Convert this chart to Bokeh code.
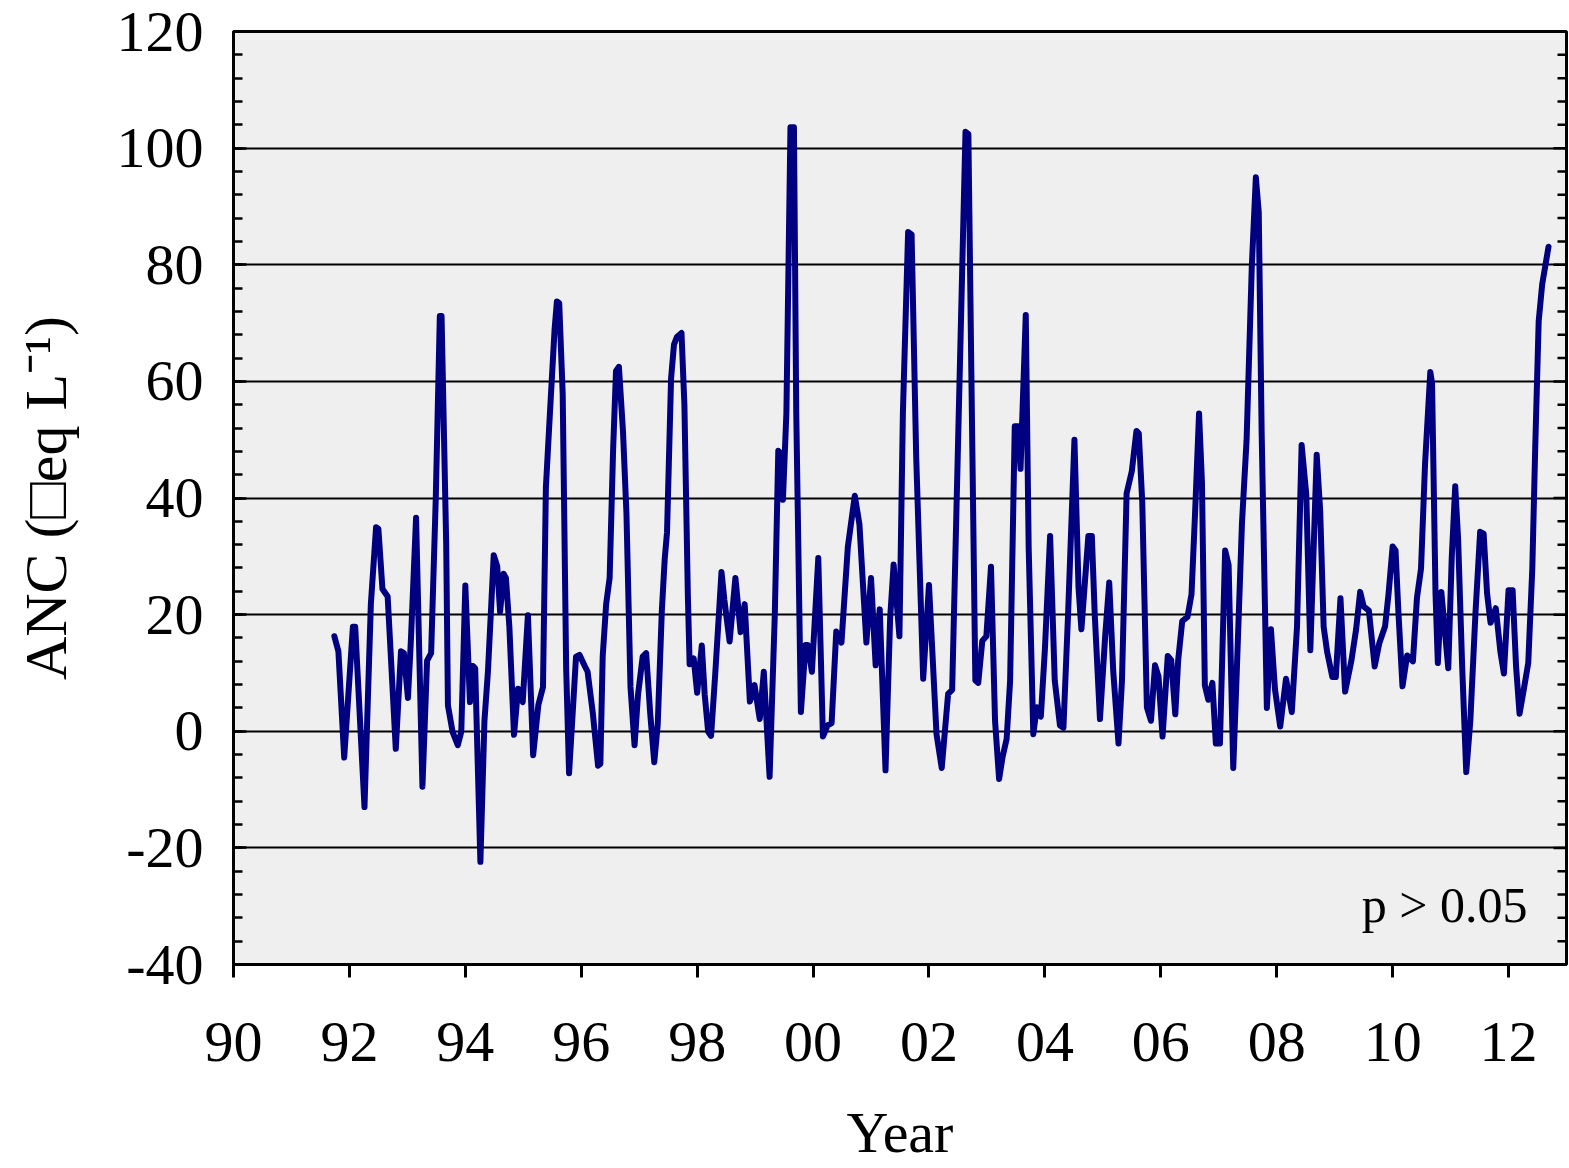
from bokeh.embed import file_html
from bokeh.models import FixedTicker, Label, Range1d, SingleIntervalTicker
from bokeh.plotting import figure
from bokeh.resources import INLINE

# ANC time series (decimal year, ueq/L)
year = [
    1991.74, 1991.81, 1991.91, 1992.06, 1992.10, 1992.26, 1992.37, 1992.46, 1992.50, 1992.57,
    1992.66, 1992.80, 1992.89, 1992.94, 1993.01, 1993.06, 1993.15, 1993.26, 1993.34, 1993.41,
    1993.49, 1993.56, 1993.59, 1993.67, 1993.70, 1993.78, 1993.87, 1993.93, 1994.00, 1994.08,
    1994.13, 1994.17, 1994.26, 1994.33, 1994.39, 1994.49, 1994.55, 1994.60, 1994.66, 1994.70,
    1994.76, 1994.84, 1994.91, 1994.99, 1995.08, 1995.17, 1995.26, 1995.34, 1995.39, 1995.45,
    1995.54, 1995.58, 1995.62, 1995.68, 1995.74, 1995.79, 1995.86, 1995.91, 1995.97, 1996.06,
    1996.11, 1996.20, 1996.29, 1996.33, 1996.37, 1996.43, 1996.49, 1996.55, 1996.60, 1996.65,
    1996.72, 1996.78, 1996.85, 1996.92, 1996.98, 1997.06, 1997.12, 1997.19, 1997.26, 1997.32,
    1997.39, 1997.44, 1997.48, 1997.55, 1997.60, 1997.65, 1997.73, 1997.78, 1997.84, 1997.87,
    1997.94, 1998.00, 1998.08, 1998.13, 1998.19, 1998.24, 1998.31, 1998.42, 1998.47, 1998.56,
    1998.66, 1998.75, 1998.82, 1998.91, 1998.99, 1999.08, 1999.15, 1999.25, 1999.34, 1999.40,
    1999.44, 1999.48, 1999.54, 1999.61, 1999.67, 1999.71, 1999.79, 1999.87, 1999.91, 1999.98,
    2000.09, 2000.17, 2000.25, 2000.32, 2000.40, 2000.49, 2000.60, 2000.72, 2000.80, 2000.92,
    2001.00, 2001.08, 2001.15, 2001.25, 2001.33, 2001.39, 2001.49, 2001.55, 2001.64, 2001.70,
    2001.78, 2001.90, 2002.00, 2002.13, 2002.22, 2002.33, 2002.40, 2002.63, 2002.68, 2002.73,
    2002.80, 2002.85, 2002.92, 2002.99, 2003.07, 2003.14, 2003.21, 2003.27, 2003.34, 2003.40,
    2003.48, 2003.54, 2003.58, 2003.67, 2003.72, 2003.80, 2003.86, 2003.93, 2004.00, 2004.09,
    2004.17, 2004.26, 2004.32, 2004.40, 2004.51, 2004.58, 2004.63, 2004.69, 2004.75, 2004.81,
    2004.86, 2004.95, 2005.04, 2005.11, 2005.18, 2005.27, 2005.33, 2005.41, 2005.50, 2005.58,
    2005.62, 2005.68, 2005.76, 2005.83, 2005.90, 2005.96, 2006.03, 2006.12, 2006.18, 2006.25,
    2006.30, 2006.37, 2006.46, 2006.53, 2006.59, 2006.66, 2006.71, 2006.76, 2006.82, 2006.89,
    2006.95, 2007.02, 2007.11, 2007.17, 2007.25, 2007.31, 2007.40, 2007.48, 2007.57, 2007.64,
    2007.69, 2007.74, 2007.83, 2007.90, 2007.97, 2008.06, 2008.16, 2008.26, 2008.35, 2008.43,
    2008.51, 2008.58, 2008.69, 2008.75, 2008.81, 2008.87, 2008.96, 2009.02, 2009.10, 2009.18,
    2009.29, 2009.37, 2009.44, 2009.50, 2009.59, 2009.69, 2009.77, 2009.87, 2009.93, 2010.00,
    2010.05, 2010.10, 2010.17, 2010.25, 2010.35, 2010.42, 2010.49, 2010.56, 2010.65, 2010.68,
    2010.74, 2010.78, 2010.84, 2010.96, 2011.02, 2011.08, 2011.13, 2011.20, 2011.27, 2011.34,
    2011.43, 2011.51, 2011.57, 2011.63, 2011.69, 2011.78, 2011.86, 2011.92, 2012.00, 2012.07,
    2012.13, 2012.19, 2012.26, 2012.34, 2012.41, 2012.46, 2012.52, 2012.58, 2012.69,
]
anc = [
    16.3, 13.7, -4.5, 17.9, 17.9, -13.0, 21.8, 35.0, 34.7, 24.4,
    23.1, -3.0, 13.7, 13.4, 5.7, 15.4, 36.6, -9.5, 12.1, 13.4,
    39.9, 71.2, 71.2, 32.1, 4.4, -0.1, -2.4, -0.1, 25.0, 5.0,
    11.2, 10.8, -22.4, 1.8, 10.2, 30.2, 28.3, 20.5, 27.0, 26.3,
    17.9, -0.6, 7.3, 5.0, 19.9, -4.1, 4.5, 7.6, 41.8, 52.8,
    68.9, 73.7, 73.4, 57.9, 10.8, -7.2, 4.4, 12.8, 13.1, 11.2,
    10.2, 3.1, -5.9, -5.6, 12.8, 21.8, 26.3, 48.3, 61.8, 62.5,
    51.5, 37.4, 7.6, -2.4, 6.3, 12.8, 13.4, 3.1, -5.3, 1.2,
    20.5, 29.5, 34.1, 60.5, 66.3, 67.6, 68.3, 56.0, 23.1, 11.5,
    12.5, 6.6, 14.7, 6.3, -0.1, -0.8, 9.5, 27.3, 22.5, 15.4,
    26.3, 17.0, 21.8, 5.1, 7.9, 2.1, 10.2, -7.8, 20.1, 48.1,
    47.7, 39.7, 54.6, 103.6, 103.6, 54.6, 3.3, 14.8, 14.8, 10.2,
    29.7, -0.9, 1.0, 1.4, 17.1, 15.2, 31.6, 40.4, 35.5, 15.2,
    26.3, 11.3, 20.9, -6.7, 19.4, 28.6, 16.3, 54.6, 85.6, 85.2,
    46.9, 9.0, 25.1, -0.5, -6.3, 6.4, 7.1, 102.8, 102.4, 62.3,
    8.7, 8.3, 15.5, 16.3, 28.2, 1.8, -8.2, -4.4, -1.3, 8.7,
    52.3, 52.3, 45.0, 71.4, 31.6, -0.5, 4.1, 2.5, 14.0, 33.5,
    8.7, 1.0, 0.6, 20.1, 50.0, 24.7, 17.5, 25.5, 33.5, 33.5,
    20.1, 2.1, 16.3, 25.5, 10.2, -2.1, 8.7, 40.8, 44.6, 51.5,
    51.1, 39.3, 4.1, 1.8, 11.3, 9.4, -0.9, 12.9, 12.2, 2.9,
    12.2, 18.9, 19.6, 23.5, 37.1, 54.5, 42.7, 7.9, 5.4, 8.3,
    -2.1, -2.1, 31.0, 28.5, -6.3, 10.0, 35.6, 49.9, 79.7, 95.0,
    89.0, 51.3, 4.0, 17.5, 7.2, 0.8, 9.0, 3.3, 17.9, 49.1,
    40.6, 13.9, 47.4, 37.8, 17.9, 13.6, 9.3, 9.3, 22.8, 6.8,
    12.2, 17.5, 23.9, 21.4, 20.7, 11.1, 15.1, 18.0, 23.6, 31.7,
    31.0, 20.4, 7.7, 13.0, 12.0, 22.9, 27.9, 46.0, 61.6, 59.7,
    23.6, 11.7, 23.9, 10.8, 29.8, 42.0, 32.9, 11.1, -7.0, 1.7,
    20.4, 34.2, 33.9, 23.6, 18.6, 21.1, 13.6, 9.9, 24.2, 24.2,
    11.1, 3.0, 7.0, 11.7, 27.9, 48.5, 70.3, 76.6, 83.1,
]

x_tick_years = [1990, 1992, 1994, 1996, 1998, 2000, 2002, 2004, 2006, 2008, 2010, 2012]
x_tick_labels = ["90", "92", "94", "96", "98", "00", "02", "04", "06", "08", "10", "12"]
y_tick_values = [-40, -20, 0, 20, 40, 60, 80, 100, 120]
y_tick_labels = ["-40", "-20", "0", "20", "40", "60", "80", "100", "120"]

X_MIN, X_MAX = 1990, 2013
Y_MIN, Y_MAX = -40, 120
Y_MAJOR, Y_MINOR = 20, 4

FONT = "Liberation Serif"
TICK_SIZE = "58px"

p = figure(
    frame_width=1333, frame_height=933,
    output_backend="svg", toolbar_location=None,
    x_range=Range1d(X_MIN, X_MAX), y_range=Range1d(Y_MIN, Y_MAX),
    min_border_left=233, min_border_right=3, min_border_top=31, min_border_bottom=150,
    background_fill_color="#efefef", border_fill_color="white",
    outline_line_color="black", outline_line_width=3,
)

# horizontal grid only
p.xgrid.visible = False
p.ygrid.grid_line_color = "black"
p.ygrid.grid_line_width = 2

# bottom axis: two-digit years, outward ticks
xa = p.xaxis[0]
xa.ticker = FixedTicker(ticks=x_tick_years)
xa.major_label_overrides = {t: s for t, s in zip(x_tick_years, x_tick_labels)}
xa.major_tick_in = 0
xa.major_tick_out = 13
xa.major_tick_line_width = 3
xa.axis_line_width = 3
xa.major_label_standoff = 45
xa.major_label_text_font = FONT
xa.major_label_text_font_size = TICK_SIZE
xa.major_label_text_color = "black"
xa.axis_label = "Year"
xa.axis_label_text_font = FONT
xa.axis_label_text_font_size = TICK_SIZE
xa.axis_label_text_font_style = "normal"
xa.axis_label_text_color = "black"
xa.axis_label_standoff = 36

# left axis: labelled majors, inward minor ticks
ya = p.yaxis[0]
ya.ticker = SingleIntervalTicker(interval=Y_MAJOR, num_minor_ticks=Y_MAJOR // Y_MINOR)
ya.major_label_overrides = {v: s for v, s in zip(y_tick_values, y_tick_labels)}
ya.major_tick_in = 13
ya.major_tick_out = 0
ya.minor_tick_in = 9
ya.minor_tick_out = 0
ya.major_tick_line_width = 2.5
ya.minor_tick_line_width = 2.5
ya.axis_line_width = 3
ya.major_label_standoff = 30
ya.major_label_text_font = FONT
ya.major_label_text_font_size = TICK_SIZE
ya.major_label_text_color = "black"
ya.axis_label = "ANC (\u25a1eq L\u207b\u00b9)"
ya.axis_label_text_font = FONT
ya.axis_label_text_font_size = "60px"
ya.axis_label_text_font_style = "normal"
ya.axis_label_text_color = "black"
ya.axis_label_standoff = 35

# mirrored inward ticks along the right edge (dashes centred on the frame edge,
# so the frame clip keeps only their inner half)
minor_vals = [v for v in range(Y_MIN + Y_MINOR, Y_MAX, Y_MINOR) if v % Y_MAJOR != 0]
p.scatter([X_MAX] * len(minor_vals), minor_vals, marker="dash", size=18,
          line_color="black", line_width=2.5)
p.scatter([X_MAX] * len(y_tick_values), y_tick_values, marker="dash", size=26,
          line_color="black", line_width=2.5)

p.line(year, anc, line_color="#000080", line_width=6, line_join="round", line_cap="round")

p.add_layout(Label(x=1294, y=60, x_units="screen", y_units="screen", text="p > 0.05",
                   text_align="right", text_baseline="alphabetic", text_font=FONT,
                   text_font_size="50px", text_color="black"))

open("out.html", "w").write(file_html(p, INLINE))
